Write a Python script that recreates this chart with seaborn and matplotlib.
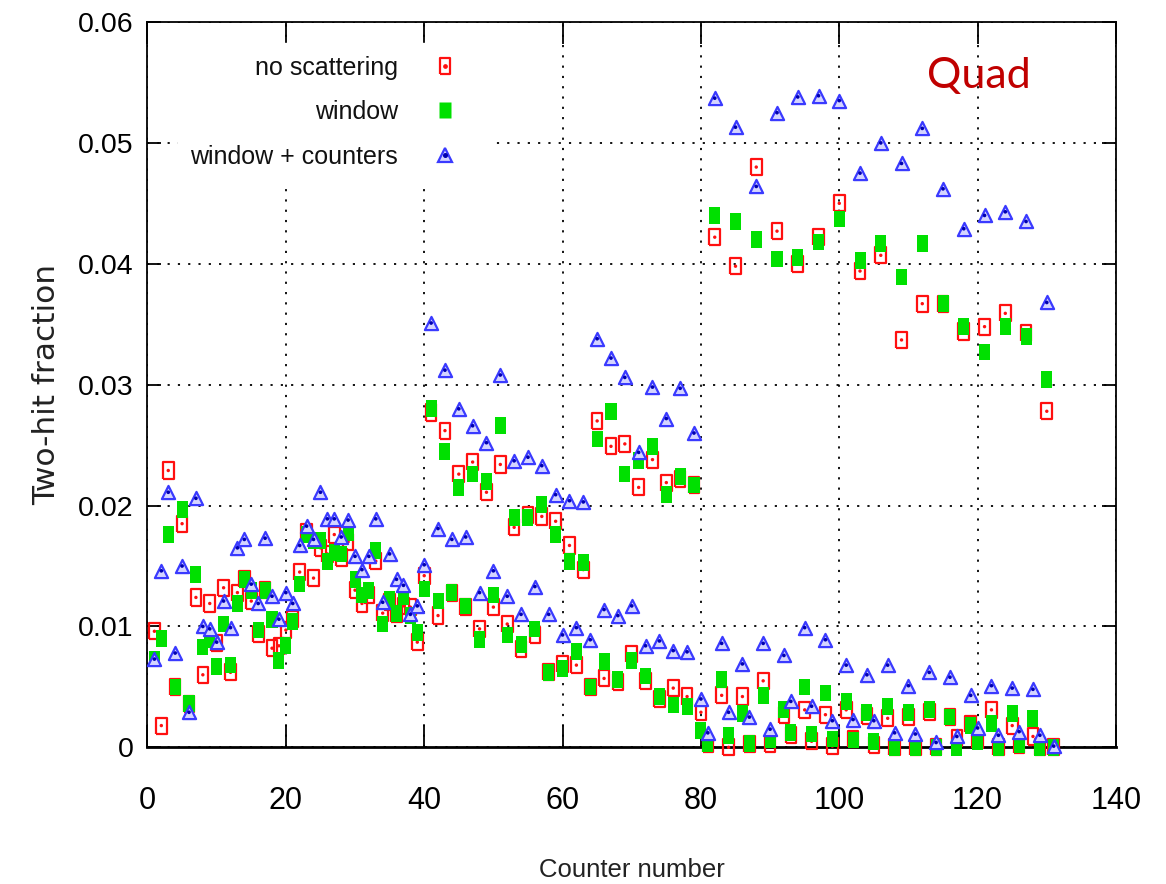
import matplotlib
matplotlib.use("Agg")
import matplotlib.pyplot as plt
import seaborn as sns
import pandas as pd
from matplotlib.lines import Line2D
from matplotlib.legend_handler import HandlerTuple
from matplotlib import font_manager

# ---------------- data ----------------
counter = list(range(1, 132))

no_scattering = [
    0.0096, 0.0018, 0.0229, 0.0050, 0.0185, 0.0036, 0.0124, 0.0060, 0.0119, 0.0086,
    0.0132, 0.0062, 0.0128, 0.0139, 0.0121, 0.0094, 0.0130, 0.0082, 0.0084, 0.0097,
    0.0106, 0.0145, 0.0178, 0.0140, 0.0165, 0.0160, 0.0176, 0.0157, 0.0170, 0.0130,
    0.0119, 0.0126, 0.0154, 0.0111, 0.0120, 0.0110, 0.0117, 0.0116, 0.0087, 0.0142,
    0.0277, 0.0109, 0.0262, 0.0128, 0.0226, 0.0116, 0.0236, 0.0098, 0.0211, 0.0116,
    0.0234, 0.0102, 0.0182, 0.0081, 0.0192, 0.0093, 0.0191, 0.0062, 0.0187, 0.0069,
    0.0167, 0.0068, 0.0147, 0.0050, 0.0270, 0.0057, 0.0249, 0.0054, 0.0251, 0.0077,
    0.0215, 0.0055, 0.0238, 0.0040, 0.0219, 0.0049, 0.0222, 0.0042, 0.0217, 0.0029,
    0.0003, 0.0422, 0.0043, 0.0000, 0.0398, 0.0042, 0.0003, 0.0480, 0.0055, 0.0003,
    0.0427, 0.0027, 0.0010, 0.0400, 0.0031, 0.0005, 0.0422, 0.0027, 0.0001, 0.0450,
    0.0031, 0.0007, 0.0394, 0.0026, 0.0002, 0.0407, 0.0024, 0.0000, 0.0337, 0.0025,
    0.0000, 0.0367, 0.0029, 0.0000, 0.0367, 0.0025, 0.0008, 0.0344, 0.0019, 0.0006,
    0.0348, 0.0031, 0.0000, 0.0359, 0.0018, 0.0002, 0.0343, 0.0009, 0.0000, 0.0278,
    0.0000,
]

window = [
    0.0073, 0.0090, 0.0176, 0.0050, 0.0197, 0.0036, 0.0143, 0.0083, 0.0089, 0.0067,
    0.0102, 0.0068, 0.0119, 0.0139, 0.0130, 0.0097, 0.0130, 0.0106, 0.0072, 0.0084,
    0.0104, 0.0135, 0.0176, 0.0171, 0.0171, 0.0154, 0.0161, 0.0160, 0.0178, 0.0139,
    0.0126, 0.0130, 0.0163, 0.0102, 0.0122, 0.0111, 0.0125, 0.0109, 0.0095, 0.0131,
    0.0280, 0.0121, 0.0245, 0.0128, 0.0215, 0.0117, 0.0226, 0.0089, 0.0220, 0.0126,
    0.0266, 0.0093, 0.0190, 0.0085, 0.0190, 0.0098, 0.0201, 0.0062, 0.0176, 0.0065,
    0.0154, 0.0079, 0.0153, 0.0050, 0.0255, 0.0071, 0.0278, 0.0056, 0.0226, 0.0072,
    0.0237, 0.0059, 0.0249, 0.0042, 0.0209, 0.0035, 0.0224, 0.0034, 0.0217, 0.0014,
    0.0003, 0.0440, 0.0056, 0.0010, 0.0435, 0.0028, 0.0003, 0.0420, 0.0043, 0.0006,
    0.0404, 0.0031, 0.0012, 0.0405, 0.0050, 0.0011, 0.0418, 0.0045, 0.0007, 0.0437,
    0.0038, 0.0006, 0.0403, 0.0029, 0.0005, 0.0417, 0.0034, 0.0000, 0.0389, 0.0029,
    0.0000, 0.0417, 0.0031, 0.0000, 0.0367, 0.0025, 0.0000, 0.0348, 0.0018, 0.0005,
    0.0327, 0.0020, 0.0000, 0.0348, 0.0028, 0.0002, 0.0340, 0.0024, 0.0000, 0.0304,
    0.0000,
]

window_counters = [
    0.0073, 0.0146, 0.0211, 0.0078, 0.0150, 0.0029, 0.0206, 0.0100, 0.0098, 0.0087,
    0.0121, 0.0099, 0.0165, 0.0172, 0.0135, 0.0119, 0.0173, 0.0125, 0.0106, 0.0128,
    0.0119, 0.0167, 0.0183, 0.0172, 0.0211, 0.0189, 0.0189, 0.0174, 0.0188, 0.0158,
    0.0147, 0.0158, 0.0189, 0.0120, 0.0160, 0.0139, 0.0134, 0.0110, 0.0117, 0.0151,
    0.0351, 0.0181, 0.0312, 0.0172, 0.0280, 0.0174, 0.0266, 0.0128, 0.0252, 0.0146,
    0.0308, 0.0125, 0.0237, 0.0110, 0.0240, 0.0133, 0.0233, 0.0110, 0.0209, 0.0093,
    0.0204, 0.0099, 0.0203, 0.0089, 0.0338, 0.0114, 0.0322, 0.0109, 0.0306, 0.0117,
    0.0244, 0.0084, 0.0298, 0.0088, 0.0272, 0.0080, 0.0297, 0.0079, 0.0260, 0.0040,
    0.0012, 0.0537, 0.0086, 0.0029, 0.0513, 0.0069, 0.0025, 0.0464, 0.0086, 0.0015,
    0.0525, 0.0076, 0.0038, 0.0538, 0.0099, 0.0034, 0.0539, 0.0089, 0.0022, 0.0535,
    0.0068, 0.0023, 0.0475, 0.0060, 0.0022, 0.0500, 0.0068, 0.0012, 0.0483, 0.0051,
    0.0011, 0.0512, 0.0062, 0.0004, 0.0462, 0.0058, 0.0009, 0.0429, 0.0043, 0.0016,
    0.0440, 0.0051, 0.0010, 0.0443, 0.0049, 0.0013, 0.0435, 0.0048, 0.0010, 0.0368,
    0.0001,
]

series_labels = ["no scattering", "window", "window + counters"]
x_ticks = [0, 20, 40, 60, 80, 100, 120, 140]
y_ticks = [0, 0.01, 0.02, 0.03, 0.04, 0.05, 0.06]
y_tick_labels = ["0", "0.01", "0.02", "0.03", "0.04", "0.05", "0.06"]
x_label = "Counter number"
y_label = "Two-hit fraction"
panel_title = "Quad"

df = pd.DataFrame({
    "counter": counter,
    "no_scattering": no_scattering,
    "window": window,
    "window_counters": window_counters,
})

# ---------------- style ----------------
sns.set_theme(style="white")
names = {f.name for f in font_manager.fontManager.ttflist}
narrow = "Liberation Sans Narrow" if "Liberation Sans Narrow" in names else "Liberation Sans"
plt.rcParams["font.family"] = [narrow, "DejaVu Sans"]

RED = "#ff1010"
GREEN = "#00e000"
BLUE_EDGE = "#3a3aff"
BLUE_FACE = "#d4d4ff"
BLUE_DOT = "#0000b0"

rect_marker = [(-0.66, -1), (0.66, -1), (0.66, 1), (-0.66, 1), (-0.66, -1)]

fig = plt.figure(figsize=(11.66, 8.84), dpi=100)
ax = fig.add_axes([0.1265, 0.1546, 0.8306, 0.8205])

# no scattering: open red box with dot
sns.scatterplot(data=df, x="counter", y="no_scattering", ax=ax, marker=rect_marker,
                s=135, color=RED, facecolor="none", edgecolor=RED, linewidth=1.6,
                clip_on=False, zorder=3, legend=False)
sns.scatterplot(data=df, x="counter", y="no_scattering", ax=ax, marker="o",
                s=6, color=RED, edgecolor="none", clip_on=False, zorder=3.1, legend=False)
# window: filled green box
sns.scatterplot(data=df, x="counter", y="window", ax=ax, marker=rect_marker,
                s=145, color=GREEN, edgecolor="none", linewidth=0,
                clip_on=False, zorder=4, legend=False)
# window + counters: blue triangle with dot
sns.scatterplot(data=df, x="counter", y="window_counters", ax=ax, marker="^",
                s=90, color=BLUE_FACE, facecolor=BLUE_FACE, edgecolor=BLUE_EDGE,
                linewidth=1.6, clip_on=False, zorder=5, legend=False)
sns.scatterplot(data=df, x="counter", y="window_counters", ax=ax, marker="o",
                s=7, color=BLUE_DOT, edgecolor="none", clip_on=False, zorder=5.1,
                legend=False)

ax.set_xlim(0, 140)
ax.set_ylim(0, 0.06)
ax.set_xticks(x_ticks)
ax.set_xticklabels([str(t) for t in x_ticks])
ax.set_yticks(y_ticks)
ax.set_yticklabels(y_tick_labels)

ax.grid(True, color="black", linestyle=(0, (1.2, 4.5)), linewidth=1.3, zorder=0)
ax.set_axisbelow(True)
for side in ["left", "right", "top", "bottom"]:
    ax.spines[side].set_visible(True)
    ax.spines[side].set_color("black")
    ax.spines[side].set_linewidth(1.3)
    ax.spines[side].set_zorder(2.5)
ax.spines["bottom"].set_linewidth(2.0)

ax.tick_params(axis="x", direction="in", length=16, width=1.3, top=True, bottom=True,
               labelsize=22, pad=28, colors="black")
ax.tick_params(axis="y", direction="in", length=10, width=1.3, left=True, right=True,
               labelsize=20.5, pad=10, colors="black")

ax.set_xlabel(x_label, fontsize=18.5, labelpad=30, color="#222222")
ax.set_ylabel(y_label, fontsize=22.5, labelpad=12, color="#222222", family="DejaVu Sans")

ax.text(0.805, 0.925, panel_title, transform=ax.transAxes, fontsize=31,
        color="#c00000", family=["Lato", "DejaVu Sans"], va="center", ha="left",
        zorder=10)

# legend (text right-aligned, marker on the right as in gnuplot)
h_red = (Line2D([], [], marker=rect_marker, ms=11.6, mfc="none", mec=RED, mew=1.6, ls=""),
         Line2D([], [], marker="o", ms=2.4, color=RED, ls=""))
h_green = Line2D([], [], marker=rect_marker, ms=12.0, mfc=GREEN, mec="none", ls="")
h_blue = (Line2D([], [], marker="^", ms=9.5, mfc=BLUE_FACE, mec=BLUE_EDGE, mew=1.6, ls=""),
          Line2D([], [], marker="o", ms=2.6, color=BLUE_DOT, ls=""))
leg = ax.legend([h_red, h_green, h_blue], series_labels, markerfirst=False,
                handler_map={tuple: HandlerTuple(ndivide=1, pad=0)},
                loc="upper right",
                bbox_to_anchor=((490 - 147.5) / 968.5, (747.3 - 43) / 725.3),
                borderaxespad=0, frameon=True, facecolor="white", edgecolor="white",
                framealpha=1.0, fontsize=18, labelspacing=0.82, handletextpad=0.58,
                handlelength=2.6, borderpad=0.5, fancybox=False)
leg.set_zorder(2.4)
for col in leg._legend_handle_box.get_children():
    col.align = "right"
for t in leg.get_texts():
    t.set_color("#111111")

fig.savefig("out.png", dpi=100, facecolor="white")
